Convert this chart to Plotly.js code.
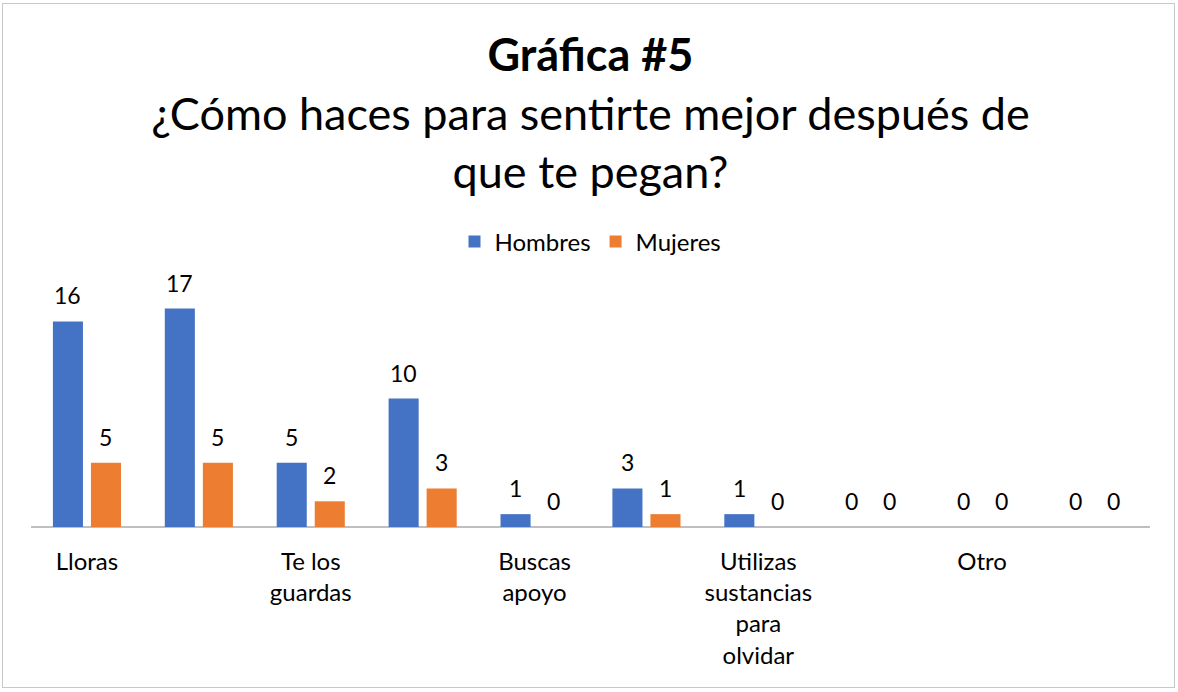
<!DOCTYPE html>
<html>
<head>
<meta charset="utf-8">
<script src="https://cdn.plot.ly/plotly-3.0.1.min.js"></script>
<style>
  html, body { margin: 0; padding: 0; background: #fff; }
  #wrap { position: relative; width: 1178px; height: 692px; }
  #chart { width: 1178px; height: 692px; }
  #frame { position: absolute; left: 2px; top: 3px; width: 1173px; height: 685px;
           border: 1px solid #c8c8c8; pointer-events: none; box-sizing: border-box; }
</style>
</head>
<body>
<div id="wrap">
  <div id="chart"></div>
  <div id="frame"></div>
</div>
<script>
// Category tick labels (Excel showed only every other label; hidden ones left blank)
const categories = ["Lloras", "", "Te los<br>guardas", "", "Buscas<br>apoyo", "", "Utilizas<br>sustancias<br>para<br>olvidar", "", "Otro", ""];
const hombres = [16, 17, 5, 10, 1, 3, 1, 0, 0, 0];
const mujeres = [5, 5, 2, 3, 0, 1, 0, 0, 0, 0];
const seriesNames = ["Hombres", "Mujeres"];
const colors = ["#4472C4", "#ED7D31"];

const xIdx = categories.map((_, i) => i);
const tickVals = xIdx.filter(i => categories[i] !== "");
const tickText = tickVals.map(i => categories[i]);

const FONT = "Lato, 'Open Sans', sans-serif";
const BARGAP = 0.32;
const slotOffset = (1 - BARGAP) / 4; // centre of each bar slot within a group

const traces = [hombres, mujeres].map((vals, k) => ({
  type: "bar",
  name: seriesNames[k],
  x: xIdx,
  y: vals,
  marker: { color: colors[k] },
  hoverinfo: "name+y"
}));

// value labels placed above each bar, read from the same arrays
const annotations = [];
[hombres, mujeres].forEach((vals, k) => {
  vals.forEach((v, i) => {
    annotations.push({
      x: i + (k === 0 ? -slotOffset : slotOffset),
      y: v,
      xref: "x", yref: "y",
      text: String(v),
      showarrow: false,
      xanchor: "center", yanchor: "middle",
      yshift: 26,
      font: { family: FONT, size: 23, color: "#000" }
    });
  });
});

const layout = {
  width: 1178,
  height: 692,
  paper_bgcolor: "#fff",
  plot_bgcolor: "#fff",
  font: { family: FONT, color: "#000" },
  margin: { l: 31, r: 28, t: 270, b: 165 },
  barmode: "group",
  bargap: BARGAP,
  bargroupgap: 0.21,
  title: {
    text: "<b>Gráfica #5</b><br>¿Cómo haces para sentirte mejor después de<br>que te pegan?",
    font: { family: FONT, size: 45, color: "#000" },
    x: 0.5, xanchor: "center",
    xref: "paper",
    yref: "container",
    y: 0.897, yanchor: "top"
  },
  legend: {
    orientation: "h",
    x: 0.5, xanchor: "center",
    y: 1.109, yanchor: "middle",
    font: { family: FONT, size: 24, color: "#000" },
    traceorder: "normal",
    itemwidth: 30
  },
  annotations: annotations,
  xaxis: {
    range: [-0.5, 9.5],
    tickvals: tickVals,
    ticktext: tickText,
    showgrid: false,
    zeroline: false,
    showline: false,
    ticks: "",
    ticklabelstandoff: 18,
    tickfont: { family: FONT, size: 24, color: "#000" },
    fixedrange: true
  },
  yaxis: {
    range: [0, 20],
    showticklabels: false,
    showgrid: false,
    zeroline: true,
    zerolinecolor: "#bfbfbf",
    zerolinewidth: 1.5,
    showline: false,
    ticks: "",
    fixedrange: true
  },
  showlegend: true
};

Plotly.newPlot("chart", traces, layout, { displayModeBar: false, staticPlot: true });
</script>
</body>
</html>
